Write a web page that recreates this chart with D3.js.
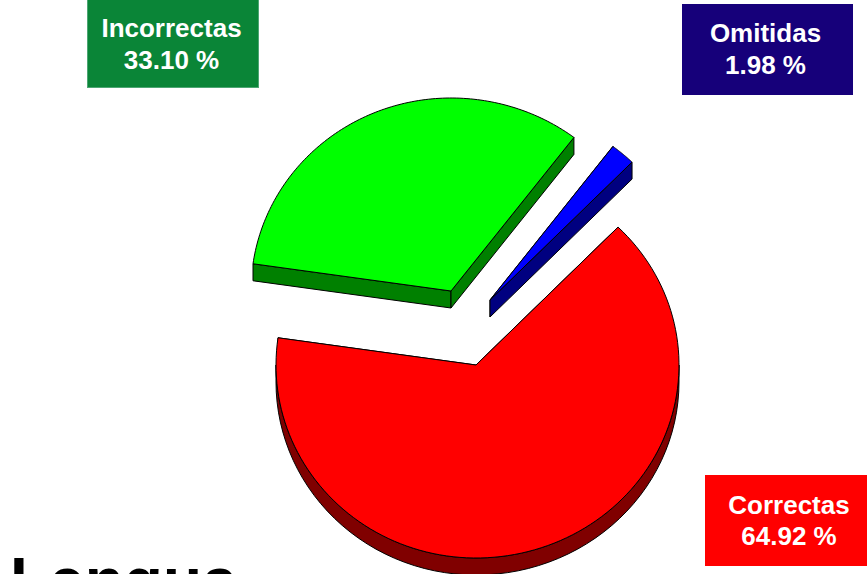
<!DOCTYPE html>
<html><head><meta charset="utf-8">
<script src="https://cdn.jsdelivr.net/npm/d3@7"></script>
<style>html,body{margin:0;padding:0;background:#fff;overflow:hidden}svg{display:block}text{font-family:"Liberation Sans",Arial,sans-serif;font-weight:700}</style>
</head><body><svg id="c" width="867" height="574"></svg>
<script>
const categories = ["Correctas","Incorrectas","Omitidas"];
const values = [64.92, 33.10, 1.98];
const topColors = ["#ff0000","#00ff00","#0000ff"];
const sideColors = ["#800000","#008000","#000080"];
const pieCenters = [[476,365],[451,291],[490,300]];
const labelNames = ["Incorrectas","Omitidas","Correctas"];
const labelValues = ["33.10 %","1.98 %","64.92 %"];
const labelBoxes = [[87,0,172,88],[682,5,171,90],[705,476,162,90]];
const labelFills = ["#0a8537","#16007a","#ff0000"];
const labelStrokes = ["#4da673","#16007a","#ff0000"];
const labelMid = [[171.5,28,60],[765.5,33,65],[789,505,536]];
const titleText = "Lengua";

const svg = d3.select("#c");
const rxLeft = 200, rxRight = 203, ry = 193, depth = 17, start = 44.4*Math.PI/180;
const pie = d3.pie().sort(null).startAngle(start).endAngle(start+2*Math.PI).value(d=>d);
const arcs = pie(values);
const px = a => { const s=Math.sin(a); return (s<0?rxLeft:rxRight)*s; }, py = a => -ry*Math.cos(a);
const line = d3.line();
arcs.forEach((s,i)=>{
  const [cx,cy]=pieCenters[i];
  const g = svg.append("g").attr("transform",`translate(${cx},${cy})`);
  const wall = pts => g.append("path").attr("d",line(pts)+"Z").attr("fill",sideColors[i]).attr("stroke","#000").attr("stroke-width",1).attr("stroke-linejoin","round");
  [s.startAngle,s.endAngle].forEach(a=>{
    wall([[0,0],[px(a),py(a)],[px(a),py(a)+depth],[0,depth]]);
  });
  const lo=Math.max(s.startAngle,Math.PI/2), hi=Math.min(s.endAngle,3*Math.PI/2);
  if(hi>lo){
    const as=d3.range(0,61).map(k=>lo+(hi-lo)*k/60);
    wall(as.map(a=>[px(a),py(a)]).concat(as.slice().reverse().map(a=>[px(a),py(a)+depth])));
  }
  const as=d3.range(0,121).map(k=>s.startAngle+(s.endAngle-s.startAngle)*k/120);
  g.append("path").attr("d",line([[0,0]].concat(as.map(a=>[px(a),py(a)])))+"Z")
    .attr("fill",topColors[i]).attr("stroke","#000").attr("stroke-width",1).attr("stroke-linejoin","round");
});
labelBoxes.forEach((b,i)=>{
  svg.append("rect").attr("x",b[0]+.5).attr("y",b[1]-.5).attr("width",b[2]-1).attr("height",b[3]).attr("fill",labelFills[i]).attr("stroke",labelStrokes[i]);
  const m=labelMid[i];
  [labelNames[i],labelValues[i]].forEach((t,j)=>{
    svg.append("text").attr("x",m[0]).attr("y",m[j+1]+9).attr("text-anchor","middle").attr("font-size",26).attr("fill","#fff").text(t);
  });
});
svg.append("text").attr("x",10).attr("y",603).attr("font-size",64).attr("fill","#000").text(titleText);
</script></body></html>
